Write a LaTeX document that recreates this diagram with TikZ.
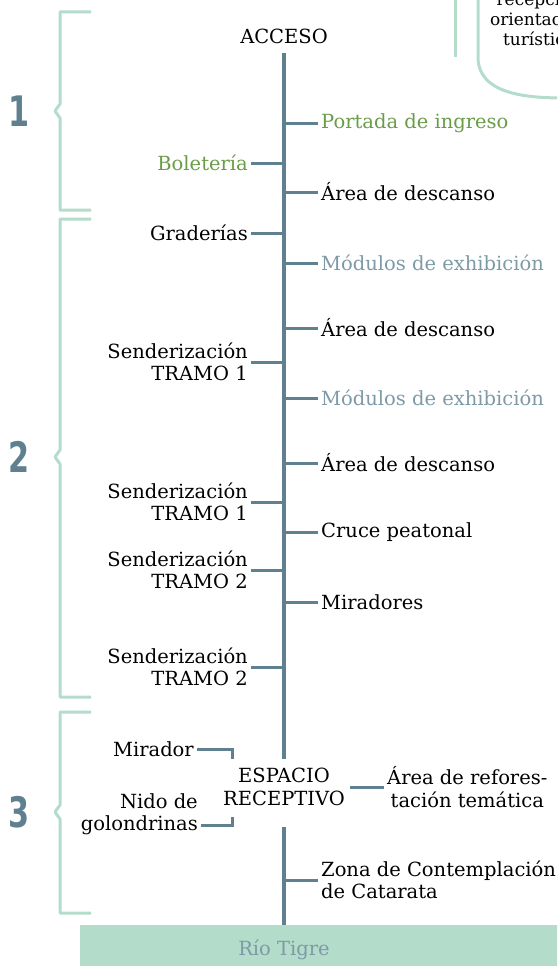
\documentclass[tikz,border=0pt]{standalone}
\usepackage{fontspec}
\setmainfont{DejaVu Serif}
\newfontfamily\numfont[FakeStretch=0.72]{DejaVu Sans}
\usepackage{tikz}
\definecolor{slate}{HTML}{5F808E}
\definecolor{mint}{HTML}{B3DCCB}
\definecolor{leaf}{HTML}{6A9C48}
\definecolor{grayblue}{HTML}{7D9AA6}
\tikzstyle{labelRight}=[anchor = west, inner xsep = 3pt, inner ysep = 0pt, align = left, font = \fontsize{19.5}{22.5}\selectfont]
\tikzstyle{labelLeft}=[anchor = east, inner xsep = 3pt, inner ysep = 0pt, align = right, font = \fontsize{19.5}{22.5}\selectfont]
\tikzstyle{branch}=[draw = slate, line width = 3pt]
\tikzstyle{trunk}=[draw = slate, line width = 3.6pt]
\tikzstyle{bracket}=[draw = mint, line width = 3pt]
\tikzstyle{number}=[text = slate, font = \numfont\bfseries\fontsize{42}{42}\selectfont]

\begin{document}
\begin{tikzpicture}[x = 1pt, y = -1pt]
\useasboundingbox (0,0) rectangle (557,966);
\clip (0,0) rectangle (557,966);
\tikzstyle{hub}=[align = center, inner xsep = 5pt, inner ysep = 9pt, font = \fontsize{19.5}{22.5}\selectfont]
\fill[mint] (80,925) rectangle (600,1000);
\draw[bracket] (455,-5) -- (455,57);
\draw[bracket] (478,-5) -- (478,57) to[out = -90, in = 180] (565,98);
\node[align = center, font = \fontsize{17}{20}\selectfont] (recep) at (539,19) {recepción\\orientación\\turística};
\draw[bracket, line join = round] (91,12) -- (60,12) -- (60,104) -- (55,111) -- (60,118) -- (60,210) -- (91,210);
\draw[bracket, line join = round] (91,219) -- (60,219) -- (60,450) -- (55,457) -- (60,464) -- (60,697) -- (91,697);
\draw[bracket, line join = round] (91,712) -- (60,712) -- (60,805) -- (55,812) -- (60,819) -- (60,913) -- (91,913);
\node[number] (n1) at (19,111) {1};
\node[number] (n2) at (19,457) {2};
\node[number] (n3) at (19,812) {3};
\node[hub] (acceso) at (284,36) {ACCESO};
\node[hub] (espacio) at (284,787) {ESPACIO\\RECEPTIVO};
\node[anchor = north, inner xsep = 2pt, inner ysep = 15pt, text = grayblue, font = \fontsize{19.5}{22.5}\selectfont] (rio) at (284,925) {Río Tigre};
\coordinate (j1) at (284,123);
\coordinate (j2) at (284,163);
\coordinate (j3) at (284,192);
\coordinate (j4) at (284,233);
\coordinate (j5) at (284,263);
\coordinate (j6) at (284,328);
\coordinate (j7) at (284,362);
\coordinate (j8) at (284,398);
\coordinate (j9) at (284,463);
\coordinate (j10) at (284,502);
\coordinate (j11) at (284,532);
\coordinate (j12) at (284,570);
\coordinate (j13) at (284,602);
\coordinate (j14) at (284,667);
\coordinate (j15) at (284,880);
\node[labelRight, text = leaf] (portada) at (318,123) {Portada de ingreso};
\node[labelLeft, text = leaf] (boleteria) at (251,163) {Boletería};
\node[labelRight] (descanso1) at (318,192) {Área de descanso};
\node[labelLeft] (graderias) at (251,233) {Graderías};
\node[labelRight, text = grayblue] (modulos1) at (318,263) {Módulos de exhibición};
\node[labelRight] (descanso2) at (318,328) {Área de descanso};
\node[labelLeft] (sender1) at (251,362) {Senderización\\TRAMO 1};
\node[labelRight, text = grayblue] (modulos2) at (318,398) {Módulos de exhibición};
\node[labelRight] (descanso3) at (318,463) {Área de descanso};
\node[labelLeft] (sender2) at (251,502) {Senderización\\TRAMO 1};
\node[labelRight] (cruce) at (318,532) {Cruce peatonal};
\node[labelLeft] (sender3) at (251,570) {Senderización\\TRAMO 2};
\node[labelRight] (miradores) at (318,602) {Miradores};
\node[labelLeft] (sender4) at (251,667) {Senderización\\TRAMO 2};
\node[labelRight] (zona) at (318,880) {Zona de Contemplación\\de Catarata};
\node[labelLeft] (mirador) at (197,749) {Mirador};
\node[labelLeft] (nido) at (201,814) {Nido de\\golondrinas};
\node[labelRight, align = center] (refores) at (384,787) {Área de refores-\\tación temática};
\coordinate (mk) at (232,759);
\coordinate (nk) at (232,817);
\draw[trunk] (acceso.south) -- (espacio.north);
\draw[trunk] ([yshift = -12pt]espacio.south) -- (rio.north);
\draw[branch] (j1) -- (portada.west);
\draw[branch] (boleteria.east) -- (j2);
\draw[branch] (j3) -- (descanso1.west);
\draw[branch] (graderias.east) -- (j4);
\draw[branch] (j5) -- (modulos1.west);
\draw[branch] (j6) -- (descanso2.west);
\draw[branch] (sender1.east) -- (j7);
\draw[branch] (j8) -- (modulos2.west);
\draw[branch] (j9) -- (descanso3.west);
\draw[branch] (sender2.east) -- (j10);
\draw[branch] (j11) -- (cruce.west);
\draw[branch] (sender3.east) -- (j12);
\draw[branch] (j13) -- (miradores.west);
\draw[branch] (sender4.east) -- (j14);
\draw[branch] (j15) -- (zona.west);
\draw[branch] (mirador.east) -| (mk);
\draw[branch] ([yshift = -11pt]nido.east) -| (nk);
\draw[branch] (espacio.east) -- (refores.west);
\end{tikzpicture}
\end{document}
